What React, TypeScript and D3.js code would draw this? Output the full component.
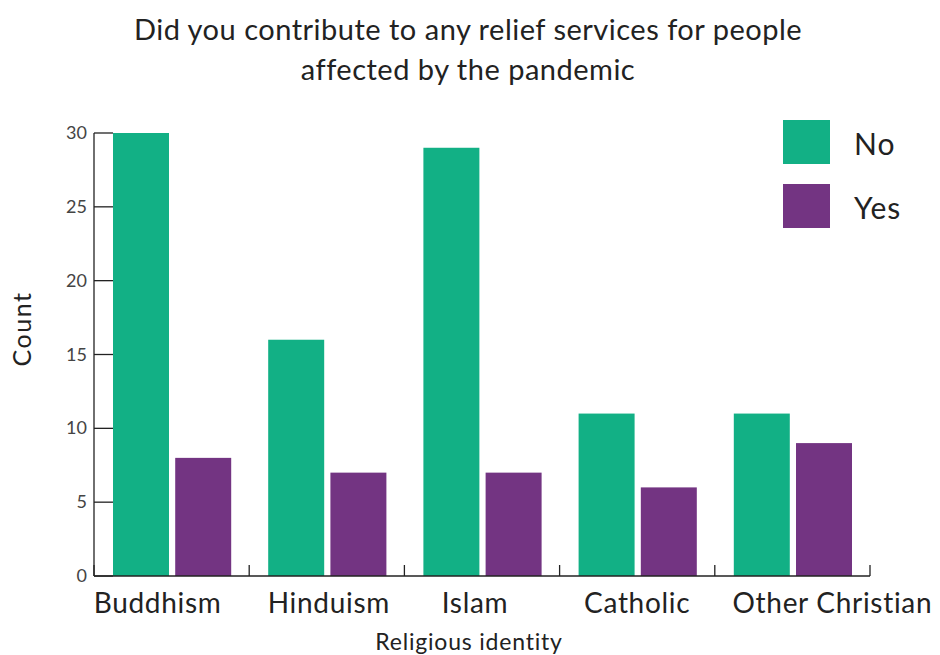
import React from "react";
import * as d3 from "d3";

const categories = ["Buddhism", "Hinduism", "Islam", "Catholic", "Other Christian"];
const seriesNames = ["No", "Yes"];
const noValues = [30, 16, 29, 11, 11];
const yesValues = [8, 7, 7, 6, 9];
const yTicks = [0, 5, 10, 15, 20, 25, 30];
const colors = ["#12b085", "#733482"];
const titleLines = ["Did you contribute to any relief services for people", "affected by the pandemic"];

const W = 940, H = 655;
const FONT = "Lato, 'Open Sans', sans-serif";
const labelDx = [-14, 2, -7, 0, 40];

export default function App() {
  const left = 94, right = 870, top = 133, bottom = 576;
  const x = d3.scaleBand<string>().domain(categories).range([left, right]).paddingInner(0).paddingOuter(0);
  const inner = d3.scaleBand<string>().domain(seriesNames).range([19, x.bandwidth() - 18]).paddingInner(0.1);
  const y = d3.scaleLinear().domain([0, 30]).range([bottom, top]);
  const series = [noValues, yesValues];
  const boundaries = categories.map((c) => x(c)!).concat([right]);

  return (
    <svg width={W} height={H} style={{ position: "absolute", left: 0, top: 0 }} fontFamily={FONT}>
      <rect width={W} height={H} fill="#fff" />
      {titleLines.map((t, i) => (
        <text key={i} x={468} y={40 + i * 40} textAnchor="middle" fontSize={29} letterSpacing={0.5} fill="#222">{t}</text>
      ))}
      {series.map((vals, si) =>
        vals.map((v, ci) => (
          <rect key={`${si}-${ci}`} x={x(categories[ci])! + inner(seriesNames[si])!} y={y(v)} width={inner.bandwidth()} height={y(0) - y(v)} fill={colors[si]} />
        ))
      )}
      <line x1={left} x2={left} y1={top} y2={bottom} stroke="#222" strokeWidth={1.3} />
      <line x1={left} x2={right} y1={bottom} y2={bottom} stroke="#222" strokeWidth={1.3} />
      {yTicks.map((t) => (
        <g key={t}>
          <line x1={left} x2={left + 19} y1={y(t)} y2={y(t)} stroke="#222" strokeWidth={1.3} />
          <text x={87} y={y(t) + 6} textAnchor="end" fontSize={18} fill="#444">{t}</text>
        </g>
      ))}
      {boundaries.map((b, i) => (
        <line key={i} x1={b} x2={b} y1={bottom} y2={bottom - 11} stroke="#222" strokeWidth={1.3} />
      ))}
      {categories.map((c, i) => (
        <text key={c} x={x(c)! + x.bandwidth() / 2 + labelDx[i]} y={613} textAnchor="middle" fontSize={28} letterSpacing={0.7} fill="#222">{c}</text>
      ))}
      <text x={469} y={650} textAnchor="middle" fontSize={23} letterSpacing={0.8} fill="#222">Religious identity</text>
      <text transform={`translate(31,329) rotate(-90)`} textAnchor="middle" fontSize={25} letterSpacing={1.5} fill="#222">Count</text>
      {seriesNames.map((s, i) => (
        <g key={s}>
          <rect x={783} y={120 + i * 64} width={47} height={44} fill={colors[i]} />
          <text x={854} y={155 + i * 64} fontSize={30} letterSpacing={1} fill="#222">{s}</text>
        </g>
      ))}
    </svg>
  );
}
